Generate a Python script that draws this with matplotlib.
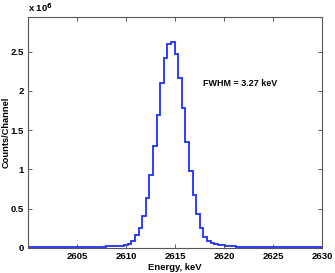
import matplotlib
matplotlib.use("Agg")
import matplotlib.pyplot as plt
import numpy as np

plt.rcParams["font.family"] = ["Liberation Sans", "DejaVu Sans"]
plt.rcParams["font.weight"] = "bold"

# channel calibration
ENERGY_START = 2599.91
KEV_PER_CHANNEL = 0.367

# counts per channel, in units of 1e6
COUNTS_1E6 = [
    0.010, 0.010, 0.010, 0.011, 0.011, 0.011, 0.011, 0.012, 0.012, 0.012,
    0.012, 0.013, 0.013, 0.013, 0.014, 0.014, 0.015, 0.015, 0.016, 0.017,
    0.018, 0.019, 0.020, 0.022, 0.024, 0.027, 0.030,
    0.036, 0.050, 0.095, 0.160, 0.250, 0.410, 0.630, 0.930, 1.300, 1.690,
    2.100, 2.420, 2.600,
    2.620, 2.470, 2.160, 1.780, 1.350, 0.980, 0.680, 0.430, 0.260, 0.145,
    0.093, 0.062, 0.047, 0.040, 0.034, 0.028, 0.023, 0.021, 0.019, 0.018,
    0.017, 0.016, 0.015, 0.014, 0.014, 0.013, 0.013, 0.012, 0.012, 0.012,
    0.011, 0.011, 0.011, 0.010, 0.010, 0.010, 0.010, 0.009, 0.009, 0.009,
    0.009, 0.009,
]

X_TICKS = [2605, 2610, 2615, 2620, 2625, 2630]
Y_TICKS = [0, 0.5, 1, 1.5, 2, 2.5]
FWHM_LABEL = "FWHM = 3.27 keV"


def main() -> None:
    counts = np.array(COUNTS_1E6)
    edges = ENERGY_START + KEV_PER_CHANNEL * np.arange(len(counts) + 1)

    fig = plt.figure(figsize=(3.35, 2.73), dpi=100)
    ax = fig.add_axes([0.0836, 0.0916, 0.8774, 0.8461])

    ax.stairs(counts, edges, baseline=None, color="#1f2fff", linewidth=1.3)

    ax.set_xlim(2600, 2630)
    ax.set_ylim(0, 2.94)
    ax.set_xticks(X_TICKS)
    ax.set_yticks(Y_TICKS)
    ax.set_yticklabels(["0", "0.5", "1", "1.5", "2", "2.5"])

    ax.tick_params(direction="in", length=3, width=0.6, labelsize=6.8,
                   top=True, right=True, pad=3, color="#444444")
    for spine in ax.spines.values():
        spine.set_color("#555555")
        spine.set_linewidth(0.8)

    ax.set_xlabel("Energy, keV", fontsize=6.8, fontweight="bold", labelpad=1)
    ax.set_ylabel("Counts/Channel", fontsize=6.7, fontweight="bold")
    ax.yaxis.set_label_coords(-0.058, 0.5)

    ax.text(0.0, 1.012, r"x 10$^{\mathbf{6}}$", transform=ax.transAxes,
            fontsize=6.8, fontweight="bold", ha="left", va="bottom")
    ax.text(2617.85, 2.10, FWHM_LABEL, fontsize=6.5, fontweight="bold",
            ha="left", va="center")

    fig.savefig("out.png", dpi=100)
    plt.close(fig)


if __name__ == "__main__":
    main()
